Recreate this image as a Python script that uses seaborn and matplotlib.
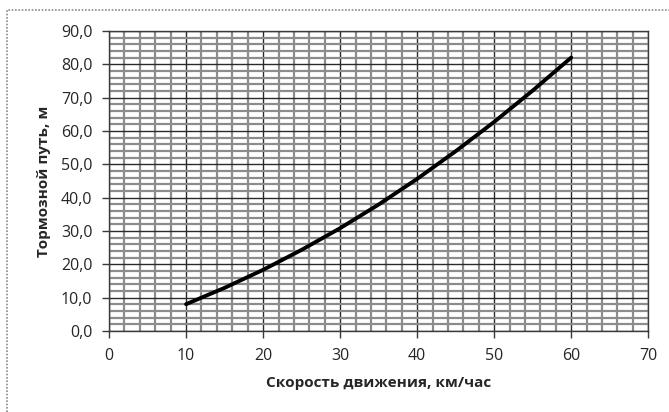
import matplotlib
matplotlib.use("Agg")
import matplotlib.pyplot as plt
import seaborn as sns
import pandas as pd
from matplotlib.ticker import MultipleLocator, FuncFormatter
from matplotlib.patches import Rectangle

# speed, km/h vs braking distance, m
speed = [10, 15, 20, 25, 30, 35, 40, 45, 50, 55, 60]
distance = [8.0, 12.9, 18.3, 24.3, 30.8, 37.9, 45.6, 53.9, 62.7, 72.1, 82.0]

x_label = "Скорость движения, км/час"
y_label = "Тормозной путь, м"

df = pd.DataFrame({"speed": speed, "distance": distance})

sns.set_style("white")
plt.rcParams["font.family"] = ["Open Sans", "DejaVu Sans"]

fig = plt.figure(figsize=(6.69, 4.12), dpi=100)
ax = fig.add_axes([0.163, 0.197, 0.806, 0.728])

sns.lineplot(data=df, x="speed", y="distance", ax=ax, color="black",
             linewidth=2.8, zorder=5)

ax.set_xlim(0, 70)
ax.set_ylim(0, 90)
ax.xaxis.set_major_locator(MultipleLocator(10))
ax.xaxis.set_minor_locator(MultipleLocator(2))
ax.yaxis.set_major_locator(MultipleLocator(10))
ax.yaxis.set_minor_locator(MultipleLocator(2))
ax.yaxis.set_major_formatter(FuncFormatter(lambda v, p: f"{v:.1f}".replace(".", ",")))

ax.grid(which="minor", color="#8c8c8c", linewidth=1.6, zorder=1)
ax.grid(which="major", color="#2a2a2a", linewidth=1.0, zorder=2)
ax.set_axisbelow(True)

for side in ax.spines.values():
    side.set_color("#3a3a3a")
    side.set_linewidth(1.0)

ax.tick_params(which="major", direction="out", length=5, width=1, color="#3a3a3a",
               labelsize=11.5, pad=7, left=True, bottom=True)
ax.tick_params(which="minor", length=0)

ax.set_xlabel(x_label, fontsize=11, fontweight="bold", labelpad=9)
ax.set_ylabel(y_label, fontsize=11, fontweight="bold", labelpad=7)

# chart area frame (right and bottom edges fall outside the image)
fig.patches.append(Rectangle((7 / 669, -0.05), 1.1, 1 - 10 / 412 + 0.05,
                             transform=fig.transFigure, fill=False,
                             edgecolor="#8a8a8a", linewidth=1.2,
                             linestyle=(0, (1, 1))))

fig.savefig("out.png", dpi=100)
